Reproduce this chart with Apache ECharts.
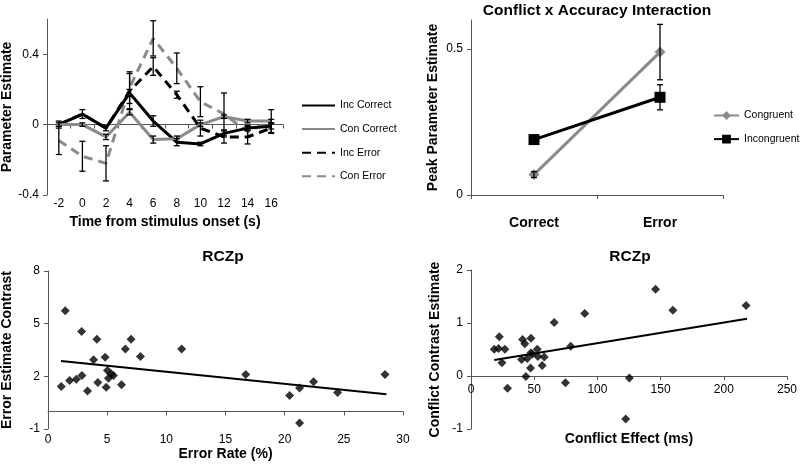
<!DOCTYPE html>
<html><head><meta charset="utf-8">
<script src="https://cdn.jsdelivr.net/npm/echarts@6/dist/echarts.min.js"></script>
<style>html,body{margin:0;padding:0;background:#fff}#c{width:800px;height:471px}</style>
</head><body><div id="c"></div>
<script>
// ---- Panel 1: time course ----
const times = ['-2','0','2','4','6','8','10','12','14','16'];
const incCorrect = [0.00, 0.06, -0.02, 0.18, 0.02, -0.10, -0.11, -0.05, -0.02, -0.01];
const conCorrect = [0.00, 0.00, -0.07, 0.07, -0.085, -0.08, 0.00, 0.045, 0.02, 0.02];
const incError   = [0.00, 0.06, -0.02, 0.19, 0.33, 0.17, -0.02, -0.07, -0.07, -0.02];
const conError   = [-0.09, -0.18, -0.22, 0.21, 0.49, 0.32, 0.13, 0.06, -0.04, 0.02];
const incCorrectErr = [0.02, 0.025, 0.015, 0.02, 0.03, 0.02, 0.01, 0.02, 0.015, 0.015];
const conCorrectErr = [0.01, 0.01, 0.015, 0.015, 0.02, 0.015, 0.01, 0.01, 0.01, 0.01];
const incErrorErr   = [0, 0, 0, 0.10, 0.05, 0.02, 0.045, 0.035, 0.04, 0.03];
const conErrorErr   = [0.08, 0.085, 0.10, 0.09, 0.10, 0.087, 0.085, 0.12, 0.03, 0.065];
const p1Ticks = [-0.4, 0, 0.4];

// ---- Panel 2: interaction ----
const conds = ['Correct', 'Error'];
const congruent = [0.07, 0.49];
const congruentErr = [0.01, 0.095];
const incongruent = [0.19, 0.335];
const incongruentErr = [0.015, 0.043];
const p2Ticks = [0, 0.5];

// ---- Panel 3: error rate scatter ----
const errRate = [1.46, 1.12, 1.83, 2.39, 2.87, 2.84, 3.34, 3.85, 4.13, 4.21, 4.83, 4.92, 5.03, 5.11, 5.53, 5.34, 6.21, 6.54, 7.02, 7.81, 11.29, 16.71, 20.42, 21.26, 22.44, 24.47, 28.48, 21.26];
const errContrast = [5.74, 1.42, 1.76, 1.84, 2.05, 4.55, 1.16, 2.94, 4.11, 1.65, 3.09, 1.38, 2.33, 1.89, 2.05, 2.14, 1.52, 3.56, 4.11, 3.13, 3.56, 2.10, 0.91, 1.33, 1.69, 1.08, 2.10, -0.66];
const trend3X = [1.1, 28.6];
const trend3Y = [2.88, 0.98];
const p3Ticks = [-1, 2, 5, 8];

// ---- Panel 4: conflict effect scatter ----
const conflictEff = [18.4, 21.8, 22.4, 24.5, 26.8, 28.9, 40.0, 40.8, 42.6, 43.4, 44.5, 47.4, 47.1, 47.4, 48.4, 52.4, 52.9, 56.3, 57.9, 65.8, 74.7, 78.9, 90.0, 125.3, 122.4, 146.0, 159.7, 217.6];
const conflictContrast = [0.505, 0.52, 0.74, 0.25, 0.505, -0.23, 0.31, 0.69, 0.61, -0.01, 0.33, 0.71, 0.15, 0.44, 0.41, 0.505, 0.37, 0.20, 0.36, 1.01, -0.126, 0.56, 1.18, -0.04, -0.81, 1.635, 1.24, 1.33];
const trend4X = [18.4, 218.4];
const trend4Y = [0.30, 1.08];

const FONT = 'Liberation Sans';
const AX = '#555';
const GRAY = '#8a8a8a';

function errBars(name, xi, yi, vals, errs) {
  const data = vals.map((v, i) => [i, v - errs[i], v + errs[i]]);
  return {
    type: 'custom', name, xAxisIndex: xi, yAxisIndex: yi, data, silent: true, z: 5,
    encode: { x: 0, y: [1, 2] },
    renderItem(params, api) {
      if (api.value(2) - api.value(1) <= 0) return null;
      const lo = api.coord([api.value(0), api.value(1)]);
      const hi = api.coord([api.value(0), api.value(2)]);
      const w = 3;
      const st = { stroke: '#000', lineWidth: 1.3 };
      return { type: 'group', children: [
        { type: 'line', shape: { x1: lo[0], y1: lo[1], x2: hi[0], y2: hi[1] }, style: st },
        { type: 'line', shape: { x1: lo[0] - w, y1: lo[1], x2: lo[0] + w, y2: lo[1] }, style: st },
        { type: 'line', shape: { x1: hi[0] - w, y1: hi[1], x2: hi[0] + w, y2: hi[1] }, style: st }
      ] };
    }
  };
}

const nameStyle = { fontFamily: FONT, fontWeight: 'bold', fontSize: 14, color: '#000' };
const labStyle = { fontFamily: FONT, fontSize: 12, color: '#000' };
const lineAx = { show: true, lineStyle: { color: AX, width: 1 } };
const tick = { show: true, length: 4, lineStyle: { color: AX } };

const chart = echarts.init(document.getElementById('c'), null, { renderer: 'canvas' });
chart.setOption({
  animation: false,
  backgroundColor: '#fff',
  textStyle: { fontFamily: FONT },
  grid: [
    { left: 47, top: 19, width: 236, height: 176, outerBoundsMode: 'none', containLabel: false },
    { left: 471, top: 20, width: 252, height: 175, outerBoundsMode: 'none', containLabel: false },
    { left: 48, top: 271, width: 355, height: 158, outerBoundsMode: 'none', containLabel: false },
    { left: 471, top: 270, width: 316, height: 159, outerBoundsMode: 'none', containLabel: false }
  ],
  xAxis: [
    { type: 'category', gridIndex: 0, data: times, boundaryGap: true,
      axisLine: { show: true, onZero: true, lineStyle: { color: AX } }, axisTick: tick,
      axisLabel: Object.assign({ margin: 3, interval: 0 }, labStyle),
      name: 'Time from stimulus onset (s)', nameLocation: 'middle', nameGap: 20, nameTextStyle: nameStyle },
    { type: 'category', gridIndex: 1, data: conds, boundaryGap: true,
      axisLine: lineAx, axisTick: tick,
      axisLabel: { margin: 21, fontFamily: FONT, fontWeight: 'bold', fontSize: 14, color: '#000' } },
    { type: 'value', gridIndex: 2, min: 0, max: 30, interval: 5, splitLine: { show: false },
      axisLine: { show: true, onZero: true, lineStyle: { color: AX } }, axisTick: tick,
      axisLabel: Object.assign({ margin: 5 }, labStyle),
      name: 'Error Rate (%)', nameLocation: 'middle', nameGap: 16, nameTextStyle: nameStyle },
    { type: 'value', gridIndex: 3, min: 0, max: 250, interval: 50, splitLine: { show: false },
      axisLine: { show: true, onZero: true, lineStyle: { color: AX } }, axisTick: tick,
      axisLabel: Object.assign({ margin: -45 }, labStyle),
      name: 'Conflict Effect (ms)', nameLocation: 'middle', nameGap: 3, nameTextStyle: nameStyle }
  ],
  yAxis: [
    { type: 'value', gridIndex: 0, min: -0.4, max: 0.6, splitLine: { show: false },
      axisLine: lineAx, axisTick: Object.assign({ customValues: p1Ticks }, tick),
      axisLabel: Object.assign({ customValues: p1Ticks, margin: 8 }, labStyle),
      name: 'Parameter Estimate', nameLocation: 'middle', nameGap: 33, nameTextStyle: nameStyle },
    { type: 'value', gridIndex: 1, min: 0, max: 0.6, splitLine: { show: false },
      axisLine: lineAx, axisTick: Object.assign({ customValues: p2Ticks }, tick),
      axisLabel: Object.assign({ customValues: p2Ticks, margin: 8 }, labStyle),
      name: 'Peak Parameter Estimate', nameLocation: 'middle', nameGap: 31, nameTextStyle: nameStyle },
    { type: 'value', gridIndex: 2, min: -1, max: 8, splitLine: { show: false },
      axisLine: lineAx, axisTick: Object.assign({ customValues: p3Ticks }, tick),
      axisLabel: Object.assign({ customValues: p3Ticks, margin: 8 }, labStyle),
      name: 'Error Estimate Contrast', nameLocation: 'middle', nameGap: 34, nameTextStyle: nameStyle },
    { type: 'value', gridIndex: 3, min: -1, max: 2, interval: 1, splitLine: { show: false },
      axisLine: lineAx, axisTick: tick,
      axisLabel: Object.assign({ margin: 8 }, labStyle),
      name: 'Conflict Contrast Estimate', nameLocation: 'middle', nameGap: 29, nameTextStyle: nameStyle }
  ],
  legend: [
    { orient: 'vertical', left: 301, top: 100, padding: 0, itemWidth: 33, itemHeight: 10, itemGap: 12.6,
      itemStyle: { opacity: 0 },
      textStyle: { fontFamily: FONT, fontSize: 10.5, color: '#000' },
      data: ['Inc Correct', 'Con Correct', 'Inc Error', 'Con Error'] },
    { orient: 'vertical', left: 713, top: 110, padding: 0, itemWidth: 25, itemHeight: 11, itemGap: 12.6,
      textStyle: { fontFamily: FONT, fontSize: 10.5, color: '#000' },
      data: ['Congruent', 'Incongruent'] }
  ],
  graphic: [
    { type: 'text', x: 597, y: 11, style: { text: 'Conflict x Accuracy Interaction', textAlign: 'center', textVerticalAlign: 'middle', font: 'bold 15.5px "Liberation Sans"', fill: '#000' } },
    { type: 'text', x: 223, y: 257, style: { text: 'RCZp', textAlign: 'center', textVerticalAlign: 'middle', font: 'bold 15.5px "Liberation Sans"', fill: '#000' } },
    { type: 'text', x: 630, y: 257, style: { text: 'RCZp', textAlign: 'center', textVerticalAlign: 'middle', font: 'bold 15.5px "Liberation Sans"', fill: '#000' } }
  ],
  series: [
    { name: 'Con Error', type: 'line', xAxisIndex: 0, yAxisIndex: 0, data: conError, showSymbol: false, symbol: 'none',
      lineStyle: { color: GRAY, width: 3, type: [9, 6] }, itemStyle: { color: GRAY }, z: 2 },
    { name: 'Inc Error', type: 'line', xAxisIndex: 0, yAxisIndex: 0, data: incError, showSymbol: false, symbol: 'none',
      lineStyle: { color: '#000', width: 3, type: [9, 6] }, itemStyle: { color: '#000' }, z: 2 },
    { name: 'Inc Correct', type: 'line', xAxisIndex: 0, yAxisIndex: 0, data: incCorrect, showSymbol: false, symbol: 'none',
      lineStyle: { color: '#000', width: 3 }, itemStyle: { color: '#000' }, z: 3 },
    { name: 'Con Correct', type: 'line', xAxisIndex: 0, yAxisIndex: 0, data: conCorrect, showSymbol: false, symbol: 'none',
      lineStyle: { color: GRAY, width: 3 }, itemStyle: { color: GRAY }, z: 3 },
    errBars('e1', 0, 0, incCorrect, incCorrectErr),
    errBars('e2', 0, 0, conCorrect, conCorrectErr),
    errBars('e3', 0, 0, incError, incErrorErr),
    errBars('e4', 0, 0, conError, conErrorErr),

    { name: 'Congruent', type: 'line', xAxisIndex: 1, yAxisIndex: 1, data: congruent, symbol: 'diamond', symbolSize: 11,
      lineStyle: { color: GRAY, width: 3 }, itemStyle: { color: GRAY }, z: 3 },
    { name: 'Incongruent', type: 'line', xAxisIndex: 1, yAxisIndex: 1, data: incongruent, symbol: 'rect', symbolSize: 11,
      lineStyle: { color: '#000', width: 3 }, itemStyle: { color: '#000' }, z: 3 },
    errBars('e5', 1, 1, congruent, congruentErr),
    errBars('e6', 1, 1, incongruent, incongruentErr),

    { name: 'p3', type: 'scatter', xAxisIndex: 2, yAxisIndex: 2, symbol: 'diamond', symbolSize: 9,
      itemStyle: { color: '#000' }, data: errRate.map((x, i) => [x, errContrast[i]]) },
    { name: 't3', type: 'line', xAxisIndex: 2, yAxisIndex: 2, symbol: 'none',
      lineStyle: { color: '#000', width: 2 }, data: trend3X.map((x, i) => [x, trend3Y[i]]) },
    { name: 'p4', type: 'scatter', xAxisIndex: 3, yAxisIndex: 3, symbol: 'diamond', symbolSize: 9,
      itemStyle: { color: '#000' }, data: conflictEff.map((x, i) => [x, conflictContrast[i]]) },
    { name: 't4', type: 'line', xAxisIndex: 3, yAxisIndex: 3, symbol: 'none',
      lineStyle: { color: '#000', width: 2 }, data: trend4X.map((x, i) => [x, trend4Y[i]]) }
  ]
});
</script>
</body></html>
